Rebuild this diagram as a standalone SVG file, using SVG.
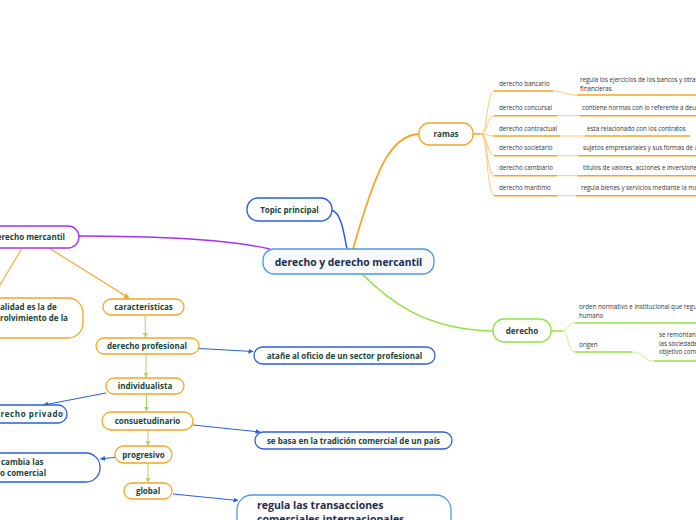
<svg xmlns="http://www.w3.org/2000/svg" width="696" height="520" viewBox="0 0 696 520">
<defs>
<style>
.n{fill:#fff;stroke-width:1.3}
.lb{font-family:"Open Sans","Noto Sans","Liberation Sans",sans-serif;font-weight:700;font-size:8px;fill:#17453a;text-anchor:middle}
.sm{font-family:"Open Sans","Noto Sans","Liberation Sans",sans-serif;font-size:6.2px;fill:#333}
.or{stroke:#f5a623}
.bl{stroke:#2a5fe0}
.gr{stroke:#8ee53f}
.pu{stroke:#a530f0}
</style>
<marker id="ab" viewBox="0 0 10 10" refX="9" refY="5" markerWidth="5" markerHeight="5" orient="auto"><path d="M0,0L10,5L0,10z" fill="#2a5fe0"/></marker>
<marker id="ag" viewBox="0 0 10 10" refX="9" refY="5" markerWidth="5" markerHeight="5" orient="auto"><path d="M0,0L10,5L0,10z" fill="#a6d86c"/></marker>
<marker id="ao" viewBox="0 0 10 10" refX="9" refY="5" markerWidth="5" markerHeight="5" orient="auto"><path d="M0,0L10,5L0,10z" fill="#f5a623"/></marker>
</defs>

<g id="connectors" fill="none">
<path d="M353,249 C375,172 390,134 420,134" stroke="#f5a623" stroke-width="1.8"/>
<path d="M332,210 C342,214 344,235 347,249" stroke="#2a5fe0" stroke-width="1.5"/>
<path d="M79,236 C170,236 230,240 270,249" stroke="#a530f0" stroke-width="1.3"/>
<path d="M362,274 C388,300 425,330 493,331" stroke="#8ee53f" stroke-width="1.6"/>
<path d="M22,248 L0,285" stroke="#f5a623" stroke-width="1.1"/>
<path d="M49,248 L129,298" stroke="#f5a623" stroke-width="1.1" marker-end="url(#ao)"/>
<g stroke="#a6d86c" stroke-width="1" marker-end="url(#ag)">
<path d="M145,316 L145.5,337.5"/>
<path d="M146,355 L146,377.5"/>
<path d="M146.5,395 L146.5,411.5"/>
<path d="M148,430.5 L148,445.5"/>
<path d="M148,463.5 L148,482.5"/>
</g>
<g stroke="#2a5fe0" stroke-width="1" marker-end="url(#ab)">
<path d="M199,348.5 L253,351.5"/>
<path d="M106,393 L43.5,405"/>
<path d="M193,425 L260,432"/>
<path d="M115,457.3 L100.5,459"/>
<path d="M173,494 L238,500.5"/>
</g>
<path d="M473,134 L481,134" stroke="#f5a623" stroke-width="1.5"/>
<g stroke="#ffc97a" stroke-width="1">
<path d="M481,134 C488,134 486,91 495,91"/>
<path d="M481,134 C488,134 486,115.7 495,115.7"/>
<path d="M481,134 C488,134 486,136 495,136"/>
<path d="M481,134 C488,134 486,155.7 495,155.7"/>
<path d="M481,134 C488,134 486,175.7 495,175.7"/>
<path d="M481,134 C488,134 486,195.7 495,195.7"/>
<path d="M553,91 C566,91 564,95 577,95"/>
<path d="M557,115.7 L580,115.7"/>
<path d="M560,136 L585,136"/>
<path d="M557,155.7 L578,155.7"/>
<path d="M557,175.7 L578,175.7"/>
<path d="M557,195.7 L576,195.7"/>
</g>
<g stroke="#f5a623" stroke-width="1.6">
<path d="M494,91 L553,91"/>
<path d="M494,115.7 L557,115.7"/>
<path d="M494,136 L560,136"/>
<path d="M494,155.7 L557,155.7"/>
<path d="M494,175.7 L557,175.7"/>
<path d="M494,195.7 L557,195.7"/>
<path d="M577,95 L696,95"/>
<path d="M580,115.7 L696,115.7"/>
<path d="M585,136 L690,136"/>
<path d="M578,155.7 L696,155.7"/>
<path d="M578,175.7 L696,175.7"/>
<path d="M576,195.7 L696,195.7"/>
</g>
<path d="M551,331 L562,331" stroke="#8ee53f" stroke-width="1.5"/>
<g stroke="#c6f29a" stroke-width="1">
<path d="M562,331 C569,331 567,323 575,323"/>
<path d="M562,331 C569,331 567,352 575,352"/>
<path d="M632,352 C644,352 642,361 654,361"/>
</g>
<g stroke="#8ee53f" stroke-width="1.6">
<path d="M575,323 L696,323"/>
<path d="M575,352 L632,352"/>
<path d="M654,361 L696,361"/>
</g>
</g>

<g id="central">
<rect x="263" y="249" width="171" height="25" rx="11" fill="#f7fbff" stroke="#4a9ae0" stroke-width="1.3"/>
<text x="348.5" y="265.5" class="lb" style="font-size:10.3px;fill:#1b2b4b">derecho y derecho mercantil</text>
</g>
<g id="topic-principal">
<rect x="247" y="198" width="85" height="23" rx="11" class="n bl"/>
<text x="289.5" y="212.8" class="lb">Topic principal</text>
</g>
<g id="ramas">
<rect x="419" y="123" width="54" height="22" rx="10" class="n or"/>
<text x="446" y="137" class="lb">ramas</text>
</g>
<g id="ramas-items" class="sm">
<text x="499" y="86">derecho bancario</text>
<text x="499" y="110">derecho concursal</text>
<text x="499" y="130.5">derecho contractual</text>
<text x="499" y="150">derecho societario</text>
<text x="499" y="170">derecho cambiario</text>
<text x="499" y="190">derecho marítimo</text>
<text x="580" y="82">regula los ejercicios de los bancos  y otras</text>
<text x="580" y="91">financieras</text>
<text x="582" y="110">contiene normas con lo referente a deud</text>
<text x="587" y="130.5">esta relacionado con los contratos</text>
<text x="583" y="150">sujetos empresariales y sus formas de a</text>
<text x="583" y="170">titulos de valores, acciones e inversiones</text>
<text x="581" y="190">regula bienes y servicios mediante la mar</text>
</g>
<g id="derecho">
<rect x="493" y="319" width="58" height="23" rx="11" class="n gr"/>
<text x="522" y="333.8" class="lb">derecho</text>
</g>
<g id="derecho-items" class="sm">
<text x="579" y="309">orden normativo e institucional que regula</text>
<text x="579" y="318">humano</text>
<text x="579" y="347">origen</text>
<text x="659" y="337">se remontan</text>
<text x="659" y="345.5">las sociedade</text>
<text x="659" y="354">objetivo comu</text>
</g>
<g id="derecho-mercantil">
<rect x="-20" y="226" width="99" height="22" rx="11" class="n pu"/>
<text x="65" y="240" class="lb" style="text-anchor:end">derecho mercantil</text>
</g>
<g id="finalidad">
<rect x="-20" y="298" width="103" height="40" rx="15" class="n or"/>
<text x="0" y="310" class="lb" style="text-anchor:start">alidad es la de</text>
<text x="0" y="321" class="lb" style="text-anchor:start">rolvimiento de la</text>
</g>
<g id="caracteristicas">
<rect x="103" y="299" width="81" height="16" rx="8" class="n or"/>
<text x="143.5" y="310" class="lb">caracteristicas</text>
</g>
<g id="derecho-profesional">
<rect x="96" y="338" width="103" height="16" rx="8" class="n or"/>
<text x="147" y="349" class="lb">derecho profesional</text>
</g>
<g id="atane">
<rect x="254" y="347" width="181" height="17" rx="8.5" class="n bl"/>
<text x="344.5" y="358.5" class="lb">atañe al oficio de un sector profesional</text>
</g>
<g id="individualista">
<rect x="106" y="378" width="78" height="16" rx="8" class="n or"/>
<text x="145" y="389" class="lb">individualista</text>
</g>
<g id="derecho-privado">
<rect x="-20" y="405" width="87" height="18" rx="9" class="n bl"/>
<text x="0.5" y="417" class="lb" style="text-anchor:start" textLength="62.5" lengthAdjust="spacing">recho privado</text>
</g>
<g id="consuetudinario">
<rect x="102" y="412" width="91" height="18" rx="9" class="n or"/>
<text x="147.5" y="424" class="lb">consuetudinario</text>
</g>
<g id="se-basa">
<rect x="255" y="432" width="197" height="17" rx="8.5" class="n bl"/>
<text x="353.5" y="443.5" class="lb">se basa en la tradición comercial de un país</text>
</g>
<g id="progresivo">
<rect x="115" y="446" width="57" height="17" rx="8.5" class="n or"/>
<text x="143.5" y="457.5" class="lb">progresivo</text>
</g>
<g id="cambia">
<rect x="-20" y="453" width="120" height="29" rx="14" class="n bl"/>
<text x="1" y="465" class="lb" style="text-anchor:start">cambia las</text>
<text x="0" y="476" class="lb" style="text-anchor:start">o comercial</text>
</g>
<g id="global">
<rect x="124" y="483" width="48" height="16" rx="8" class="n or"/>
<text x="148" y="494" class="lb">global</text>
</g>
<g id="regula">
<rect x="237" y="495" width="214" height="40" rx="15" fill="#fff" stroke="#4a9ae0" stroke-width="1.3"/>
<text x="257" y="509" class="lb" style="text-anchor:start;font-size:10.5px;fill:#1c2d50">regula las transacciones</text>
<text x="257" y="522.5" class="lb" style="text-anchor:start;font-size:10.5px;fill:#1c2d50">comerciales internacionales</text>
</g>
</svg>
